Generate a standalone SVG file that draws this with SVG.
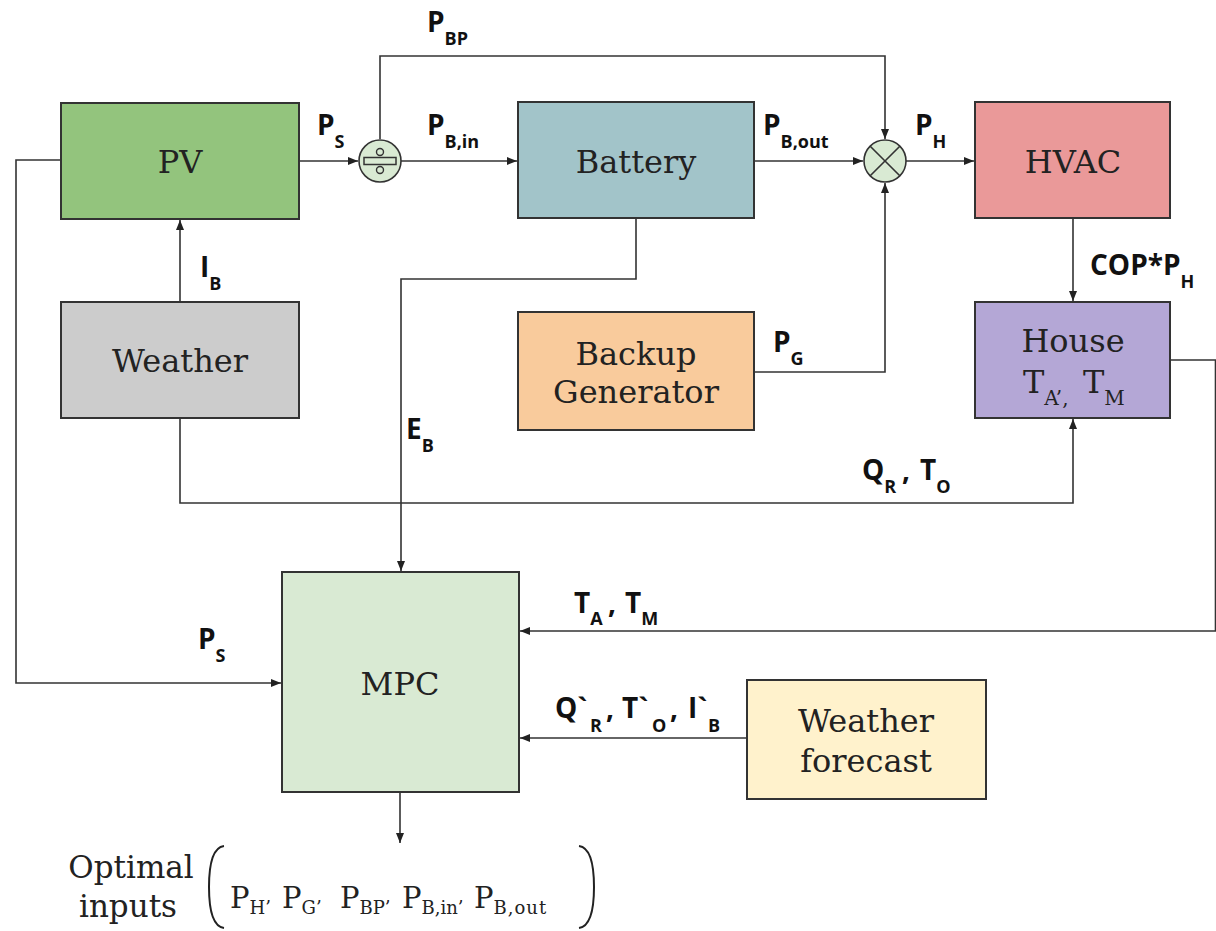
<svg xmlns="http://www.w3.org/2000/svg" width="1216" height="931" viewBox="0 0 1216 931">
<defs>
<marker id="arr" markerWidth="10" markerHeight="8" refX="10" refY="4" orient="auto" markerUnits="userSpaceOnUse">
<path d="M0,0 L10,4 L0,8 z" fill="#222"/>
</marker>
<style>
.box{stroke:#333;stroke-width:2}
.node{font-family:"DejaVu Serif","Liberation Serif",serif;font-size:32px;fill:#222;text-anchor:middle}
.lbl{font-family:"Open Sans","Liberation Sans",sans-serif;font-weight:bold;font-size:28px;fill:#111}
.sub{font-size:18px}
.conn path{fill:none;stroke:#333;stroke-width:1.6;marker-end:url(#arr)}
.ser{font-family:"DejaVu Serif","Liberation Serif",serif;fill:#222}
.ssub{font-size:18px}
</style>
</defs>
<rect width="1216" height="931" fill="#fff"/>

<g id="connectors" class="conn">
<path d="M299,161 H358"/>
<path d="M401,161 H517"/>
<path d="M380,139 V56 H885 V139"/>
<path d="M754,161 H863"/>
<path d="M906,161 H974"/>
<path d="M754,372 H885 V183"/>
<path d="M1073,218 V301"/>
<path d="M180,302 V220"/>
<path d="M180,418 V503 H1073 V419"/>
<path d="M636,218 V279 H401 V571"/>
<path d="M61,160 H16 V683 H281"/>
<path d="M1170,360 H1215.5 V631 H520"/>
<path d="M747,738 H520"/>
<path d="M400,792 V843"/>
</g>

<g id="pv"><rect class="box" x="61" y="103" width="238" height="116" fill="#93c47d"/><text class="node" x="180" y="173">PV</text></g>
<g id="weather"><rect class="box" x="61" y="302" width="238" height="116" fill="#cccccc"/><text class="node" x="180" y="372">Weather</text></g>
<g id="battery"><rect class="box" x="518" y="102" width="236" height="116" fill="#a2c4c9"/><text class="node" x="636" y="173">Battery</text></g>
<g id="backup"><rect class="box" x="518" y="312" width="236" height="118" fill="#f9cb9c"/><text class="node" x="636" y="365">Backup</text><text class="node" x="636" y="403">Generator</text></g>
<g id="hvac"><rect class="box" x="975" y="102" width="195" height="116" fill="#ea9999"/><text class="node" x="1073" y="173">HVAC</text></g>
<g id="house"><rect class="box" x="975" y="302" width="195" height="116" fill="#b4a7d6"/><text class="node" x="1073" y="352">House</text>
<text class="ser" font-size="32"><tspan x="1023" y="393">T</tspan><tspan font-size="20" dy="12">A’,</tspan><tspan x="1083" y="393">T</tspan><tspan font-size="20" dy="12">M</tspan></text></g>
<g id="mpc"><rect class="box" x="282" y="572" width="237" height="220" fill="#d9ead3"/><text class="node" x="400" y="695">MPC</text></g>
<g id="forecast"><rect class="box" x="747" y="680" width="239" height="119" fill="#fff2cc"/><text class="node" x="866" y="732">Weather</text><text class="node" x="866" y="772">forecast</text></g>

<g id="splitter">
<circle cx="380" cy="161" r="21" fill="#d9ead3" stroke="#333" stroke-width="1.6"/>
<rect x="364" y="157.5" width="32" height="7" fill="#d9ead3" stroke="#333" stroke-width="1.5"/>
<circle cx="380" cy="152" r="3.5" fill="#d9ead3" stroke="#333" stroke-width="1.4"/>
<circle cx="380" cy="170" r="3.5" fill="#d9ead3" stroke="#333" stroke-width="1.4"/>
</g>
<g id="multiplier">
<circle cx="885" cy="161" r="21" fill="#d9ead3" stroke="#333" stroke-width="1.6"/>
<path d="M870.2,146.2 L899.8,175.8 M899.8,146.2 L870.2,175.8" stroke="#333" stroke-width="1.6"/>
</g>

<g id="labels">
<text class="lbl"><tspan x="317" y="135">P</tspan><tspan class="sub" dy="13">S</tspan></text>
<text class="lbl"><tspan x="427" y="135">P</tspan><tspan class="sub" dy="13">B,in</tspan></text>
<text class="lbl"><tspan x="427" y="32">P</tspan><tspan class="sub" dy="13">BP</tspan></text>
<text class="lbl"><tspan x="763" y="135">P</tspan><tspan class="sub" dy="13">B,out</tspan></text>
<text class="lbl"><tspan x="915" y="135">P</tspan><tspan class="sub" dy="13">H</tspan></text>
<text class="lbl"><tspan x="1090" y="275">COP*P</tspan><tspan class="sub" dy="13">H</tspan></text>
<text class="lbl"><tspan x="200" y="277">I</tspan><tspan class="sub" dy="13">B</tspan></text>
<text class="lbl"><tspan x="406" y="439">E</tspan><tspan class="sub" dy="13">B</tspan></text>
<text class="lbl"><tspan x="773" y="352">P</tspan><tspan class="sub" dy="13">G</tspan></text>
<text class="lbl"><tspan x="862" y="480">Q</tspan><tspan class="sub" dy="13">R</tspan><tspan x="902" y="480">,</tspan><tspan x="920" y="480">T</tspan><tspan class="sub" dy="13">O</tspan></text>
<text class="lbl"><tspan x="574" y="613">T</tspan><tspan class="sub" dy="12">A</tspan><tspan x="608" y="613">,</tspan><tspan x="625" y="613">T</tspan><tspan class="sub" dy="12">M</tspan></text>
<text class="lbl"><tspan x="198" y="649">P</tspan><tspan class="sub" dy="13">S</tspan></text>
<text class="lbl"><tspan x="555" y="718">Q`</tspan><tspan class="sub" x="590" dy="14">R</tspan><tspan x="606" y="718">,</tspan><tspan x="622" y="718">T`</tspan><tspan class="sub" x="652" dy="14">O</tspan><tspan x="670" y="718">,</tspan><tspan x="688" y="718">I`</tspan><tspan class="sub" x="708" dy="14">B</tspan></text>
</g>

<g id="optimal-inputs">
<text class="ser" font-size="31" text-anchor="middle"><tspan x="131" y="878">Optimal</tspan><tspan x="128" y="917">inputs</tspan></text>
<path d="M224,846 Q209,848 209,887 Q209,926 224,928" fill="none" stroke="#222" stroke-width="2"/>
<path d="M579,846 Q594,848 594,887 Q594,926 579,928" fill="none" stroke="#222" stroke-width="2"/>
<text class="ser" font-size="29"><tspan x="230" y="908">P</tspan><tspan class="ssub" dy="6">H’</tspan><tspan x="282" y="908">P</tspan><tspan class="ssub" dy="6">G’</tspan><tspan x="340" y="908">P</tspan><tspan class="ssub" dy="6">BP’</tspan><tspan x="402" y="908">P</tspan><tspan class="ssub" dy="6">B,in’</tspan><tspan x="474" y="908">P</tspan><tspan class="ssub" dy="6" letter-spacing="1">B,out</tspan></text>
</g>
</svg>
